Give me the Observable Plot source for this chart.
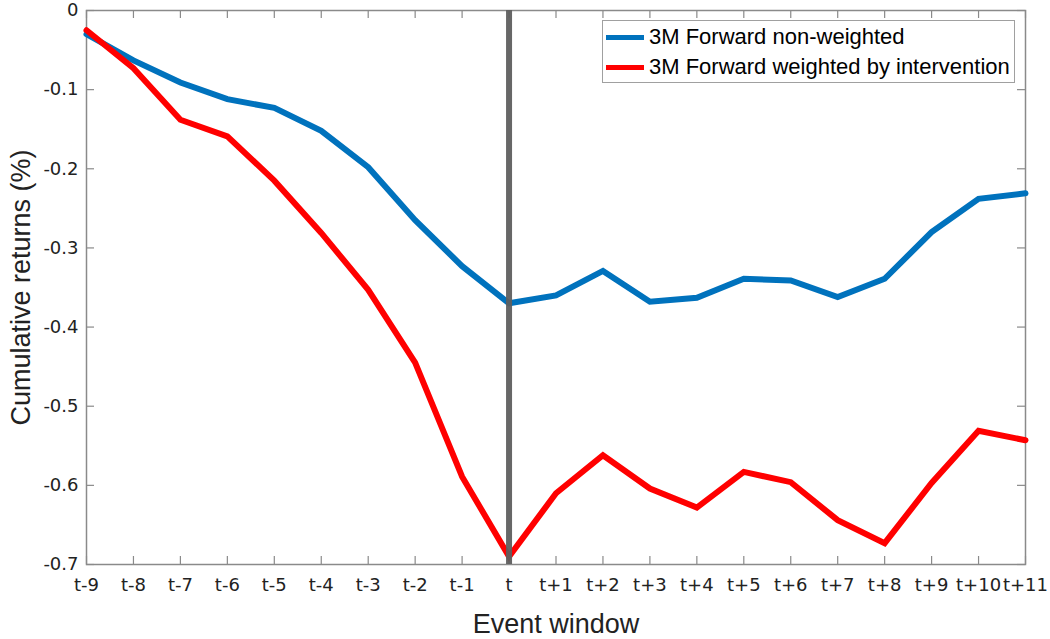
<!DOCTYPE html>
<html>
<head>
<meta charset="utf-8">
<script src="https://cdn.jsdelivr.net/npm/d3@7"></script>
<script src="https://cdn.jsdelivr.net/npm/@observablehq/plot@0.6"></script>
<style>
  html, body { margin: 0; padding: 0; background: #fff; overflow: hidden; }
  #wrap { position: relative; width: 1050px; height: 639px; overflow: hidden; }
  #chart svg { display: block; }
  #legend { position: absolute; left: 602px; top: 20px; width: 413px; height: 63px; border: 1px solid #a0a0a0; background: #fff;
    font-family: "Liberation Sans", Arial, sans-serif; font-size: 22px; color: #000; box-sizing: border-box; }
  .row { position: absolute; left: 3px; display: flex; align-items: center; white-space: nowrap; height: 26px; }
  .sw { width: 38px; height: 5px; margin-right: 5px; }
</style>
</head>
<body>
<div id="wrap">
  <div id="chart"></div>
  <div id="legend"></div>
</div>
<script>
const categories = ["t-9","t-8","t-7","t-6","t-5","t-4","t-3","t-2","t-1","t","t+1","t+2","t+3","t+4","t+5","t+6","t+7","t+8","t+9","t+10","t+11"];
const nonWeighted = [-0.030,-0.063,-0.091,-0.112,-0.123,-0.152,-0.198,-0.265,-0.323,-0.370,-0.360,-0.329,-0.368,-0.363,-0.339,-0.341,-0.362,-0.339,-0.280,-0.238,-0.231];
const weighted = [-0.025,-0.073,-0.138,-0.159,-0.215,-0.281,-0.353,-0.445,-0.589,-0.690,-0.610,-0.562,-0.604,-0.628,-0.583,-0.596,-0.644,-0.673,-0.597,-0.531,-0.543];
const seriesNames = ["3M Forward non-weighted", "3M Forward weighted by intervention"];
const seriesColors = ["#0072BD", "#FF0000"];
const yTicks = [0,-0.1,-0.2,-0.3,-0.4,-0.5,-0.6,-0.7];
const eventCategory = "t";

const data = [];
categories.forEach((c, i) => {
  data.push({cat: c, value: nonWeighted[i], series: seriesNames[0]});
  data.push({cat: c, value: weighted[i], series: seriesNames[1]});
});

const W = 1050, H = 639;
const mL = 86, mR = 25, mT = 10, mB = 75;
const pw = W - mL - mR, ph = H - mT - mB;
const tickLen = 8;
const tickColor = "#8a8a8a";
const tickFont = "'DejaVu Sans', Verdana, sans-serif";

const chart = Plot.plot({
  width: W, height: H,
  marginLeft: mL, marginRight: mR, marginTop: mT, marginBottom: mB,
  style: {fontFamily: "'Liberation Sans', Arial, sans-serif", fontSize: "18px", color: "#222", background: "#fff"},
  x: {type: "point", domain: categories, padding: 0, round: false},
  y: {domain: [-0.7, 0]},
  color: {domain: seriesNames, range: seriesColors},
  marks: [
    Plot.frame({stroke: tickColor, strokeWidth: 1.5}),
    // inward ticks on all four sides
    Plot.tickX(categories, {x: d => d, stroke: tickColor, strokeWidth: 1.2, insetTop: ph - tickLen}),
    Plot.tickX(categories, {x: d => d, stroke: tickColor, strokeWidth: 1.2, insetBottom: ph - tickLen}),
    Plot.tickY(yTicks, {y: d => d, stroke: tickColor, strokeWidth: 1.2, insetRight: pw - tickLen}),
    Plot.tickY(yTicks, {y: d => d, stroke: tickColor, strokeWidth: 1.2, insetLeft: pw - tickLen}),
    Plot.axisX({tickSize: 0, tickPadding: 14, label: "Event window", labelAnchor: "center", labelArrow: "none", labelOffset: 68, fontSize: 18, fontFamily: tickFont}),
    Plot.axisY({ticks: yTicks, tickFormat: d => d === 0 ? "0" : String(d), tickSize: 0, tickPadding: 8, label: "Cumulative returns (%)", labelAnchor: "center", labelArrow: "none", labelOffset: 76, fontSize: 18, fontFamily: tickFont}),
    Plot.line(data, {x: "cat", y: "value", stroke: "series", strokeWidth: 6, strokeLinejoin: "miter", strokeMiterlimit: 3}),
    Plot.ruleX([eventCategory], {x: d => d, stroke: "#5f5f5f", strokeWidth: 6, strokeOpacity: 0.95})
  ]
});
document.getElementById("chart").appendChild(chart);

// axis titles in larger sans-serif
d3.select(chart).selectAll("[aria-label='x-axis label'], [aria-label='y-axis label']")
  .attr("font-family", "'Liberation Sans', Arial, sans-serif");
d3.select(chart).selectAll("[aria-label='x-axis label'] text, [aria-label='y-axis label'] text")
  .style("font-size", "27px").style("font-family", "'Liberation Sans', Arial, sans-serif").attr("fill", "#222");

const legend = document.getElementById("legend");
seriesNames.forEach((name, i) => {
  const row = document.createElement("div");
  row.className = "row";
  row.style.top = (i === 0 ? 3 : 33) + "px";
  row.innerHTML = `<div class="sw" style="background:${seriesColors[i]}"></div><span>${name}</span>`;
  legend.appendChild(row);
});
</script>
</body>
</html>
